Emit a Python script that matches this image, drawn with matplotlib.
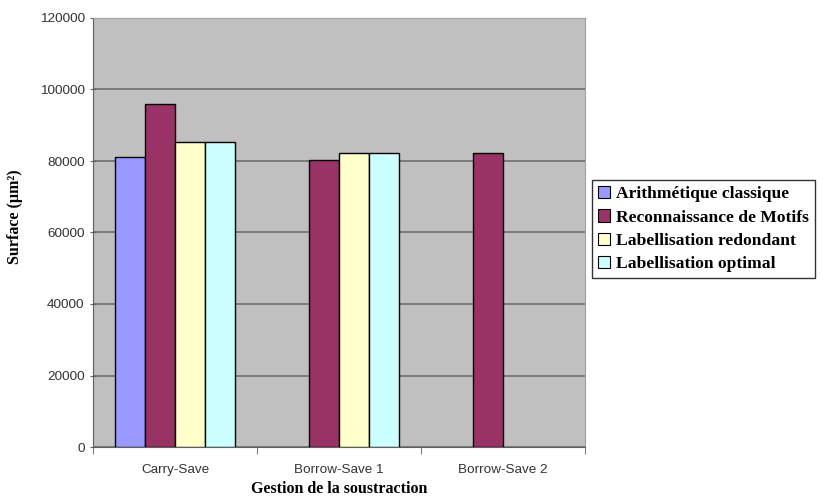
import numpy as np
import matplotlib.pyplot as plt

categories = ["Carry-Save", "Borrow-Save 1", "Borrow-Save 2"]
series_names = ["Arithmétique classique", "Reconnaissance de Motifs",
                "Labellisation redondant", "Labellisation optimal"]
arith = [81200, np.nan, np.nan]
reconn = [96000, 80200, 82200]
label_red = [85400, 82300, np.nan]
label_opt = [85400, 82300, np.nan]
colors = ["#9999FF", "#993366", "#FFFFCC", "#CCFFFF"]

fig = plt.figure(figsize=(8.24, 4.98), dpi=100)
ax = fig.add_axes([93 / 824, 51 / 498, 492 / 824, 429 / 498])
ax.set_facecolor("#C0C0C0")

x = np.arange(len(categories))
w = 0.183
for i, (vals, name, c) in enumerate(zip([arith, reconn, label_red, label_opt], series_names, colors)):
    ax.bar(x + (i - 1.5) * w, vals, w, color=c, edgecolor="black", linewidth=1, label=name, zorder=3)

ax.set_xlim(-0.5, 2.5)
ax.set_ylim(0, 120000)
ax.set_yticks(np.arange(0, 120001, 20000))
ax.yaxis.grid(True, color="#6E6E6E", linewidth=1.2, zorder=1)
ax.set_xticks(x)
ax.set_xticklabels(categories)
ax.set_xticks([-0.5, 0.5, 1.5, 2.5], minor=True)
ax.tick_params(axis="x", which="major", length=0, pad=12)
ax.tick_params(axis="x", which="minor", length=5, color="#606060", direction="out")
ax.tick_params(axis="y", length=5, color="#606060", direction="inout")
for lab in ax.get_xticklabels() + ax.get_yticklabels():
    lab.set_fontfamily("Liberation Sans")
    lab.set_fontsize(9.7)
    lab.set_color("#333333")

for s in ["left", "bottom"]:
    ax.spines[s].set_color("#606060")
for s in ["top", "right"]:
    ax.spines[s].set_color("#A0A0A0")

ax.set_xlabel("Gestion de la soustraction", fontfamily="Liberation Serif",
              fontweight="bold", fontsize=11.5)
ax.xaxis.set_label_coords(0.5, -34 / 429)
ax.set_ylabel("Surface (µm²)", fontfamily="Liberation Serif",
              fontweight="bold", fontsize=11.5)
ax.yaxis.set_label_coords(-70 / 492, (447 - 217) / 429)

leg = ax.legend(loc="upper left", bbox_to_anchor=(592 / 824, 1 - 180 / 498),
                bbox_transform=fig.transFigure, frameon=True, fancybox=False,
                prop={"family": "Liberation Serif", "weight": "bold", "size": 12.6},
                handlelength=0.7, handleheight=0.7, handletextpad=0.3,
                labelspacing=0.4, borderpad=0.35, borderaxespad=0)
leg.get_frame().set_edgecolor("black")
leg.get_frame().set_linewidth(1)
for h in leg.legend_handles:
    h.set_linewidth(0.8)

fig.savefig("out.png", dpi=100)
